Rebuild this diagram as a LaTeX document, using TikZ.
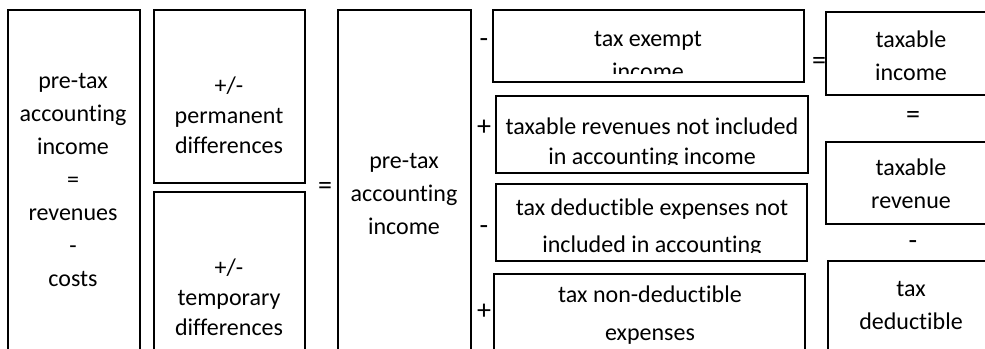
\documentclass[tikz,border=0pt]{standalone}
\usepackage{fontspec}
\setmainfont{Carlito}[Ligatures={NoCommon}]
\tikzset{
  box/.style={line width=1pt},
  txt/.style={font=\fontsize{12}{16.5}\selectfont, align=center, inner sep=0pt},
  sign/.style={font=\fontsize{14}{16}\selectfont, inner sep=0pt},
}
\begin{document}
\begin{tikzpicture}[x=0.5pt,y=-0.5pt]
  \useasboundingbox (0,0) rectangle (985,348);
  \clip (0,0) rectangle (985,348);
  % left part
  \draw[box] (8,10) rectangle (140,360);
  \node[txt] (acc) at (73,180) {pre-tax\\accounting\\income\\=\\revenues\\-\\costs};
  \draw[box] (154,10) rectangle (305,183);
  \node[txt] (perm) at (229,115) {+/-\\[-1.5pt]permanent\\[-1.5pt]differences};
  \draw[box] (154,192) rectangle (305,360);
  \node[txt] (temp) at (229,297) {+/-\\[-1.5pt]temporary\\[-1.5pt]differences};
  \node[sign] (eq1) at (325,188) {=};
  \draw[box] (338,10) rectangle (471,360);
  \node[txt] (pretax) at (404,194) {pre-tax\\accounting\\income};
  % adjustments
  \node[sign] (m1) at (484,43) {-};
  \draw[box] (493,10) rectangle (804,82);
  \begin{scope}
    \clip (493,10) rectangle (804,73);
    \node[txt] (exempt) at (648,55) {tax exempt\\income};
  \end{scope}
  \node[sign] (p1) at (484,128) {+};
  \draw[box] (496,96) rectangle (808,173);
  \begin{scope}
    \clip (496,96) rectangle (808,164);
    \node[txt] (revnot) at (652,143) {taxable revenues not included\\[-1.5pt]in accounting income};
  \end{scope}
  \node[sign] (m2) at (484,230) {-};
  \draw[box] (496,184) rectangle (807,261);
  \begin{scope}
    \clip (496,184) rectangle (807,252);
    \node[txt] (dedexp) at (652,228) {tax deductible expenses not\\[2pt]included in accounting};
  \end{scope}
  \node[sign] (p2) at (484,312) {+};
  \draw[box] (494,274) rectangle (805,360);
  \node[txt] (nonded) at (650,315) {tax non-deductible\\[2.5pt]expenses};
  % result
  \node[sign] (eq2) at (819,63) {=};
  \draw[box] (826,12) rectangle (1000,95);
  \node[txt] (taxinc) at (911,56) {taxable\\income};
  \node[sign] (eq3) at (913,117) {=};
  \draw[box] (826,142) rectangle (1000,224);
  \node[txt] (taxrev) at (911,184) {taxable\\revenue};
  \node[sign] (m3) at (913,245) {-};
  \draw[box] (828,261) rectangle (1000,360);
  \node[txt] (taxded) at (911,305) {tax\\deductible};
\end{tikzpicture}
\end{document}
